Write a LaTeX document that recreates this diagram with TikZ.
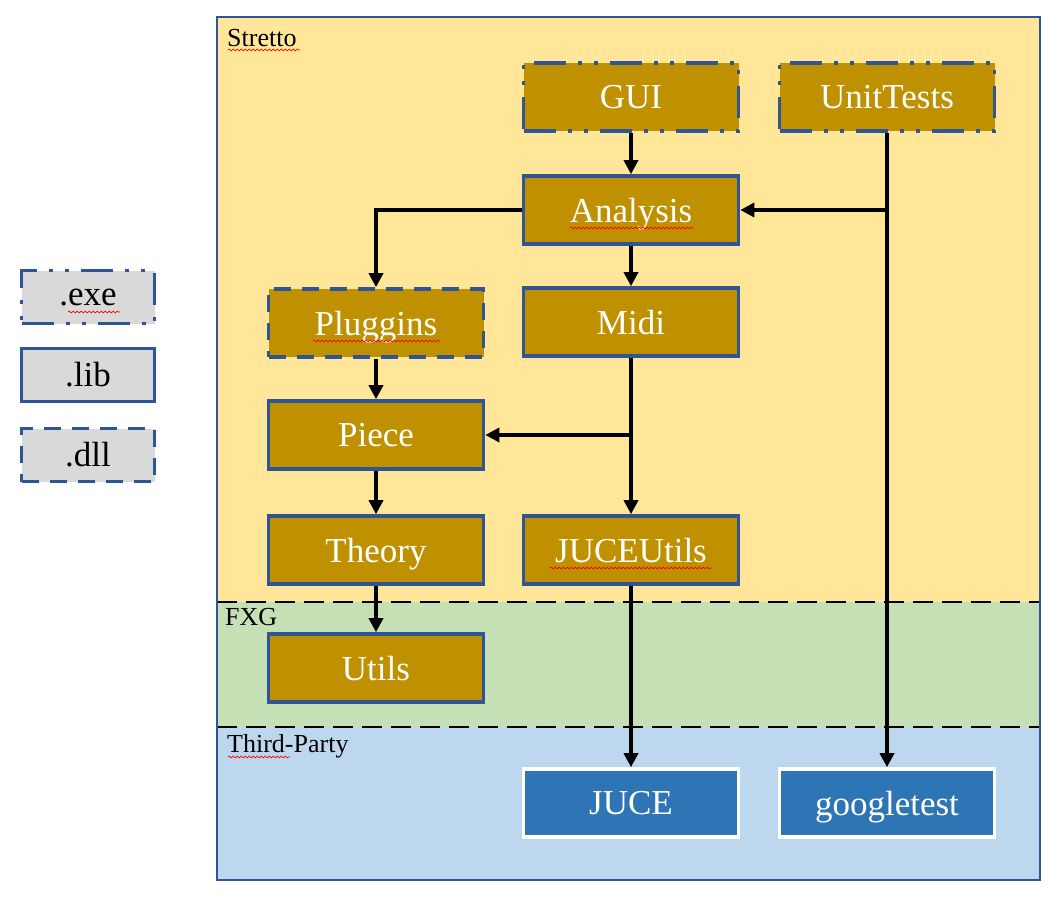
\documentclass[tikz,border=0pt]{standalone}
\usepackage{fontspec}
\setmainfont{Liberation Serif}
\usetikzlibrary{arrows.meta,decorations.pathmorphing,calc}
\definecolor{frameblue}{HTML}{2F5597}
\definecolor{gold}{HTML}{BF9000}
\definecolor{strettoY}{HTML}{FFE699}
\definecolor{fxgG}{HTML}{C5E0B4}
\definecolor{tpB}{HTML}{BDD7EE}
\definecolor{extB}{HTML}{2E75B6}
\definecolor{legG}{HTML}{D9D9D9}
\tikzset{
  mod/.style={draw=frameblue, line width=3.6pt, fill=gold, text=white,
    font=\fontsize{35}{40}\selectfont, minimum width=215pt, minimum height=68pt, inner sep=0pt,
    text depth=0pt, yshift=0pt},
  exedash/.style={dash pattern=on 32pt off 12pt on 4pt off 12pt on 4pt off 12pt},
  dlldash/.style={dash pattern=on 17pt off 11pt},
  exemod/.style={mod, exedash},
  dllmod/.style={mod, dlldash},
  extmod/.style={mod, fill=extB, draw=white},
  leg/.style={draw=frameblue, line width=3.6pt, fill=legG, text=black,
    font=\fontsize{35}{40}\selectfont, minimum width=133pt, minimum height=53pt, inner sep=0pt},
  dep/.style={-{Triangle[length=14pt,width=14pt]}, line width=3.4pt, black},
  sep/.style={line width=2.8pt, black, dash pattern=on 20pt off 9pt},
  region/.style={font=\fontsize{26}{30}\selectfont, anchor=west, inner sep=0pt},
  spell/.style={red, line width=0.7pt, decorate, decoration={snake, amplitude=0.9pt, segment length=4pt}},
}
\begin{document}
\begin{tikzpicture}[x=1pt,y=-1pt]
\useasboundingbox (0,0) rectangle (1059,907);
% regions
\fill[strettoY] (217,17) rectangle (1040,602);
\fill[fxgG] (217,602) rectangle (1040,727);
\fill[tpB] (217,727) rectangle (1040,880);
\draw[sep] (217,602) -- (1040,602);
\draw[sep] (217,727) -- (1040,727);
\draw[frameblue, line width=2.8pt] (217,17) rectangle (1040,880);
\node[region] (lstretto) at (227,38) {Stretto};
\node[region] (lfxg) at (225,617) {FXG};
\node[region] (ltp) at (227,746) {Third-Party};
% legend
\node[leg, exedash] (lexe) at (88,297) {.exe};
\node[leg] (llib) at (88,375) {.lib};
\node[leg, dlldash] (ldll) at (88,455) {.dll};
% modules
\node[exemod] (GUI) at (631,97) {GUI};
\node[exemod] (UnitTests) at (887,97) {UnitTests};
\node[mod] (Analysis) at (631,210) {Analysis};
\node[dllmod] (Pluggins) at (376,323) {Pluggins};
\node[mod] (Midi) at (631,322) {Midi};
\node[mod] (Piece) at (376,435) {Piece};
\node[mod] (Theory) at (376,550) {Theory};
\node[mod] (JUCEUtils) at (631,550) {JUCEUtils};
\node[mod] (Utils) at (376,668) {Utils};
\node[extmod] (JUCE) at (631,803) {JUCE};
\node[extmod] (googletest) at (887,803) {googletest};
% dependencies
\draw[dep] (GUI) -- (Analysis);
\draw[dep] (Analysis.west) -| (Pluggins.north);
\draw[dep] (Analysis) -- (Midi);
\draw[dep] (UnitTests) -- (googletest);
\coordinate (utb) at (UnitTests.south |- Analysis.east);
\draw[dep] (utb) -- (Analysis.east);
\draw[dep] (Midi) -- (JUCEUtils);
\coordinate (mdb) at (Midi.south |- Piece.east);
\draw[dep] (mdb) -- (Piece.east);
\draw[dep] (Pluggins) -- (Piece);
\draw[dep] (Piece) -- (Theory);
\draw[dep] (Theory) -- (Utils);
\draw[dep] (JUCEUtils) -- (JUCE);
% spell-check underlines
\draw[spell] ($(lstretto.west)+(1,12)$) -- ++(72,0);
\draw[spell] ($(ltp.west)+(1,11)$) -- ++(62,0);
\draw[spell] ($(Analysis.center)+(-61,18)$) -- ++(123,0);
\draw[spell] ($(Pluggins.center)+(-63,18)$) -- ++(127,0);
\draw[spell] ($(JUCEUtils.center)+(-81,18)$) -- ++(162,0);
\draw[spell] ($(lexe.center)+(-20,15)$) -- ++(52,0);
\end{tikzpicture}
\end{document}
